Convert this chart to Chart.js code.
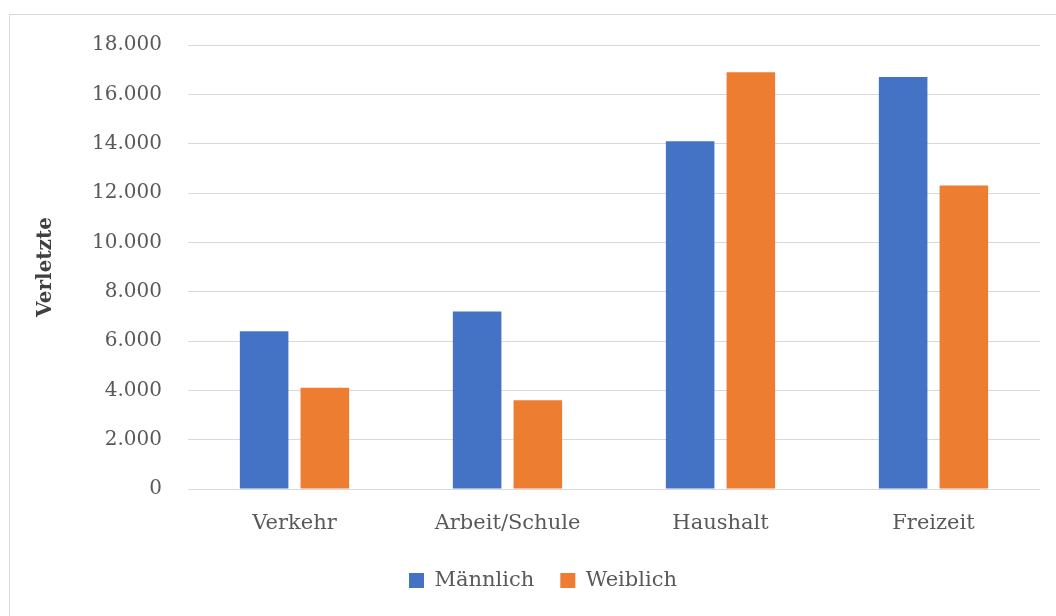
<!DOCTYPE html>
<html>
<head>
<meta charset="utf-8">
<script src="https://cdn.jsdelivr.net/npm/chart.js@4/dist/chart.umd.min.js"></script>
<style>
    html, body { margin: 0; padding: 0; background: #ffffff; overflow: hidden; width: 1056px; height: 616px; }
    .frame { position: absolute; left: 9px; top: 14px; width: 1100px; height: 700px; border: 1px solid #d9d9d9; }
    .chart_wrap { position: absolute; left: 0; top: 0; width: 1100px; height: 616px; }
</style>
</head>
<body>
<div class="frame"></div>
<div class="chart_wrap"><canvas id="verletzte_chart"></canvas></div>
<script>
var categories = ['Verkehr', 'Arbeit/Schule', 'Haushalt', 'Freizeit']; //Bereiche
var maennlich = [6400, 7200, 14100, 16700]; //Verletzte maennlich
var weiblich = [4100, 3600, 16900, 12300]; //Verletzte weiblich
var yTicks = [0, 2000, 4000, 6000, 8000, 10000, 12000, 14000, 16000, 18000];

var fontFamily = "'DejaVu Serif', 'Liberation Serif', serif";

/**
 * Format numbers German style (18.000)
 */
function formatNumber(value) {
    return String(value).replace(/\B(?=(\d{3})+(?!\d))/g, '.');
}

function chartVerletzte() {
    var ctx = document.getElementById('verletzte_chart').getContext('2d');
    var verletzteChart = new Chart(ctx, {
        type: 'bar',
        data: {
            labels: categories,
            datasets: [{
                label: 'Männlich',
                data: maennlich,
                backgroundColor: '#4472c4'
            }, {
                label: 'Weiblich',
                data: weiblich,
                backgroundColor: '#ed7d31'
            }]
        },
        options: {
            responsive: true,
            maintainAspectRatio: false,
            animation: false,
            datasets: {
                bar: {
                    categoryPercentage: 0.57,
                    barPercentage: 0.8
                }
            },
            layout: {
                padding: { left: 46, right: 60, top: 45, bottom: 15 }
            },
            plugins: {
                tooltip: { enabled: false },
                legend: {
                    position: 'bottom',
                    labels: {
                        boxWidth: 15,
                        boxHeight: 15,
                        padding: 26,
                        color: '#595959',
                        font: { family: fontFamily, size: 21 }
                    }
                }
            },
            scales: {
                x: {
                    grid: { display: false },
                    border: { display: false },
                    //fixed axis height so the legend can sit lower
                    afterFit: function(scale) {
                        scale.height = 55;
                    },
                    ticks: {
                        color: '#595959',
                        padding: 14,
                        font: { family: fontFamily, size: 21 }
                    }
                },
                y: {
                    min: 0,
                    max: 18000,
                    afterBuildTicks: function(axis) {
                        axis.ticks = yTicks.map(function(v) { return { value: v }; });
                    },
                    grid: { color: '#d9d9d9', lineWidth: 1, drawTicks: false },
                    border: { display: false },
                    ticks: {
                        color: '#595959',
                        padding: 26,
                        font: { family: fontFamily, size: 20 },
                        callback: function(value) { return formatNumber(value); }
                    },
                    title: {
                        display: true,
                        text: 'Verletzte',
                        color: '#404040',
                        padding: { top: -12, bottom: 8 },
                        font: { family: fontFamily, size: 20, weight: 'bold' }
                    }
                }
            }
        }
    });
}

chartVerletzte();
</script>
</body>
</html>
